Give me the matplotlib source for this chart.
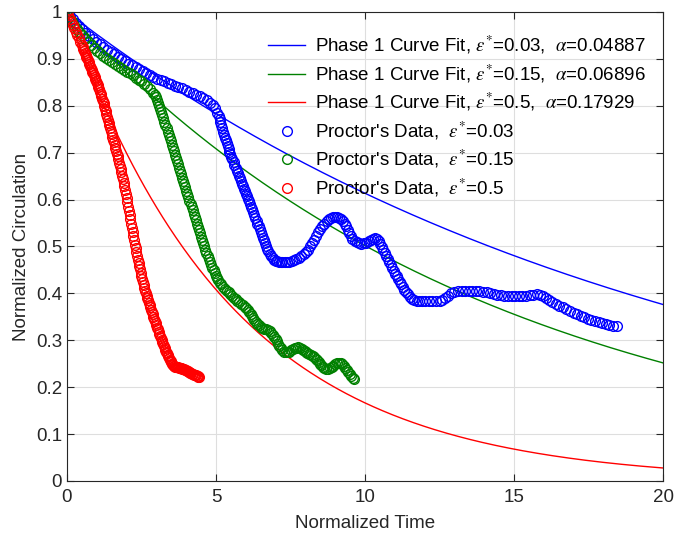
import numpy as np
import matplotlib
matplotlib.use("Agg")
import matplotlib.pyplot as plt

plt.rcParams['font.family'] = ['Liberation Sans', 'DejaVu Sans']
plt.rcParams['mathtext.fontset'] = 'stix'

# curve fit parameters (from legend)
eps_labels = ['0.03', '0.15', '0.5']
alphas = [0.04887, 0.06896, 0.17929]
colors = ['#0000ff', '#008000', '#ff0000']

# Proctor's data
blue_t = [0.00, 0.10, 0.20, 0.30, 0.40, 0.50, 0.62, 0.74, 0.86, 0.98, 1.10, 1.22, 1.34, 1.46, 1.58,
          1.70, 1.82, 1.94, 2.06, 2.18, 2.30, 2.42, 2.54, 2.66, 2.78, 2.90, 3.02, 3.14, 3.26, 3.38,
          3.50, 3.62, 3.74, 3.86, 3.98, 4.10, 4.22, 4.34, 4.46, 4.58, 4.70, 4.80, 4.90, 4.98,
          5.05, 5.09, 5.12, 5.15, 5.18, 5.21, 5.24, 5.27, 5.30, 5.33, 5.36, 5.39, 5.42, 5.45, 5.48,
          5.52, 5.55, 5.59, 5.62, 5.66, 5.69, 5.73, 5.76, 5.80, 5.83, 5.87, 5.90, 5.94, 5.97, 6.01,
          6.04, 6.08, 6.11, 6.15, 6.18, 6.22, 6.25, 6.29, 6.32, 6.36, 6.39, 6.43, 6.46, 6.50, 6.53,
          6.57, 6.60, 6.64, 6.68, 6.72, 6.76, 6.80, 6.85, 6.90, 6.95, 7.00, 7.05, 7.11, 7.17, 7.23,
          7.30, 7.38, 7.46, 7.54, 7.62, 7.70, 7.78, 7.86, 7.94, 8.01, 8.08, 8.15, 8.22, 8.29, 8.36,
          8.43, 8.50, 8.57, 8.64, 8.71, 8.78, 8.85, 8.92, 8.99, 9.06, 9.13, 9.20, 9.26, 9.32, 9.37,
          9.42, 9.47, 9.52, 9.58, 9.65, 9.72, 9.80, 9.88, 9.96, 10.04, 10.12, 10.20, 10.28, 10.35,
          10.41, 10.46, 10.51, 10.56, 10.61, 10.66, 10.71, 10.76, 10.81, 10.86, 10.91, 10.96, 11.01,
          11.06, 11.11, 11.16, 11.21, 11.26, 11.32, 11.38, 11.44, 11.51, 11.58, 11.66, 11.74, 11.82,
          11.90, 12.02, 12.14, 12.26, 12.38, 12.50, 12.60, 12.70, 12.80, 12.90, 13.00, 13.12, 13.24,
          13.36, 13.48, 13.60, 13.72, 13.84, 13.96, 14.08, 14.20, 14.32, 14.44, 14.56, 14.68, 14.80,
          14.92, 15.04, 15.16, 15.28, 15.40, 15.52, 15.64, 15.76, 15.86, 15.96, 16.06, 16.17, 16.28,
          16.40, 16.52, 16.64, 16.76, 16.88, 17.00, 17.12, 17.24, 17.36, 17.48, 17.60, 17.72, 17.84,
          17.96, 18.08, 18.20, 18.32, 18.46]
blue_y = [1.000, 0.992, 0.984, 0.977, 0.970, 0.963, 0.956, 0.949, 0.943, 0.937, 0.932, 0.926, 0.920, 0.915, 0.910,
          0.905, 0.900, 0.895, 0.890, 0.886, 0.882, 0.878, 0.874, 0.869, 0.865, 0.862, 0.858, 0.855, 0.852, 0.849,
          0.846, 0.843, 0.840, 0.837, 0.834, 0.830, 0.827, 0.824, 0.821, 0.816, 0.812, 0.807, 0.801, 0.795,
          0.785, 0.778, 0.772, 0.765, 0.758, 0.752, 0.745, 0.738, 0.732, 0.726, 0.720, 0.714, 0.708, 0.702, 0.697,
          0.691, 0.686, 0.680, 0.674, 0.668, 0.662, 0.656, 0.651, 0.645, 0.640, 0.634, 0.629, 0.623, 0.618, 0.612,
          0.607, 0.601, 0.596, 0.590, 0.585, 0.579, 0.573, 0.567, 0.561, 0.555, 0.549, 0.543, 0.537, 0.531, 0.525,
          0.519, 0.513, 0.507, 0.501, 0.495, 0.490, 0.485, 0.480, 0.476, 0.472, 0.470, 0.468, 0.467, 0.466, 0.466,
          0.466, 0.466, 0.467, 0.469, 0.471, 0.474, 0.476, 0.479, 0.484, 0.488, 0.493, 0.500, 0.507, 0.514, 0.522,
          0.530, 0.537, 0.544, 0.549, 0.554, 0.558, 0.560, 0.562, 0.562, 0.562, 0.560, 0.558, 0.554, 0.549, 0.543,
          0.536, 0.529, 0.523, 0.517, 0.512, 0.509, 0.507, 0.506, 0.507, 0.508, 0.511, 0.514, 0.517, 0.518,
          0.516, 0.511, 0.505, 0.499, 0.492, 0.486, 0.479, 0.473, 0.467, 0.461, 0.455, 0.448, 0.442,
          0.436, 0.430, 0.424, 0.419, 0.414, 0.408, 0.403, 0.398, 0.393, 0.389, 0.386, 0.384, 0.383,
          0.383, 0.383, 0.383, 0.383, 0.383, 0.384, 0.386, 0.390, 0.395, 0.400, 0.403, 0.405, 0.406,
          0.406, 0.406, 0.406, 0.406, 0.405, 0.404, 0.403, 0.401, 0.399, 0.397, 0.396, 0.395, 0.394,
          0.394, 0.394, 0.394, 0.394, 0.395, 0.396, 0.397, 0.399, 0.397, 0.394, 0.390, 0.386, 0.382,
          0.378, 0.374, 0.370, 0.367, 0.363, 0.359, 0.356, 0.352, 0.349, 0.346, 0.343, 0.341, 0.339,
          0.337, 0.335, 0.333, 0.331, 0.330]

green_t = [0.00, 0.08, 0.16, 0.24, 0.32, 0.40, 0.50, 0.60, 0.70, 0.80, 0.90, 1.00, 1.10, 1.20, 1.30,
           1.40, 1.50, 1.60, 1.70, 1.80, 1.90, 2.00, 2.10, 2.20, 2.30, 2.40, 2.50, 2.60, 2.70, 2.80,
           2.90, 2.94, 2.98, 3.02, 3.06, 3.095, 3.13, 3.165, 3.20, 3.235, 3.27, 3.305, 3.34, 3.375,
           3.41, 3.445, 3.48, 3.515, 3.55, 3.585, 3.62, 3.655, 3.69, 3.725, 3.76, 3.795, 3.83, 3.865,
           3.90, 3.935, 3.97, 4.005, 4.04, 4.075, 4.11, 4.145, 4.18, 4.215, 4.25, 4.285, 4.32, 4.355,
           4.39, 4.425, 4.46, 4.495, 4.53, 4.565, 4.60, 4.64, 4.68, 4.72, 4.76, 4.80, 4.84, 4.88,
           4.92, 4.96, 5.00, 5.04, 5.08, 5.13, 5.18, 5.24, 5.30, 5.36, 5.42, 5.48, 5.54, 5.60, 5.66,
           5.72, 5.78, 5.84, 5.90, 5.96, 6.02, 6.07, 6.12, 6.16, 6.20, 6.24, 6.28, 6.33, 6.38, 6.44,
           6.50, 6.56, 6.62, 6.68, 6.74, 6.80, 6.86, 6.91, 6.96, 7.00, 7.04, 7.08, 7.12, 7.17, 7.22,
           7.28, 7.34, 7.40, 7.46, 7.52, 7.58, 7.64, 7.70, 7.76, 7.82, 7.87, 7.92, 7.97, 8.02, 8.07,
           8.12, 8.18, 8.24, 8.29, 8.34, 8.39, 8.44, 8.49, 8.54, 8.59, 8.64, 8.70, 8.76, 8.82, 8.88,
           8.94, 9.00, 9.06, 9.12, 9.18, 9.24, 9.29, 9.34, 9.39, 9.44, 9.49, 9.54, 9.59, 9.64]
green_y = [1.000, 0.990, 0.980, 0.972, 0.964, 0.957, 0.950, 0.943, 0.936, 0.929, 0.923, 0.917, 0.912, 0.907, 0.902,
           0.898, 0.893, 0.889, 0.885, 0.881, 0.877, 0.873, 0.869, 0.865, 0.860, 0.856, 0.852, 0.847, 0.842, 0.836,
           0.828, 0.823, 0.818, 0.812, 0.806, 0.800, 0.793, 0.787, 0.780, 0.773, 0.766, 0.759, 0.752, 0.745,
           0.738, 0.731, 0.724, 0.717, 0.710, 0.703, 0.696, 0.689, 0.682, 0.675, 0.668, 0.661, 0.654, 0.647,
           0.640, 0.633, 0.626, 0.619, 0.612, 0.605, 0.598, 0.591, 0.584, 0.577, 0.570, 0.563, 0.556, 0.549,
           0.542, 0.535, 0.528, 0.521, 0.514, 0.507, 0.500, 0.493, 0.487, 0.480, 0.474, 0.467, 0.461, 0.455,
           0.449, 0.443, 0.438, 0.433, 0.428, 0.423, 0.419, 0.414, 0.410, 0.406, 0.402, 0.398, 0.395, 0.391, 0.388,
           0.384, 0.381, 0.378, 0.375, 0.371, 0.368, 0.365, 0.361, 0.356, 0.352, 0.347, 0.343, 0.339, 0.335, 0.332,
           0.329, 0.327, 0.325, 0.323, 0.321, 0.319, 0.316, 0.312, 0.308, 0.303, 0.298, 0.293, 0.288, 0.283, 0.279,
           0.276, 0.274, 0.275, 0.276, 0.279, 0.281, 0.283, 0.284, 0.285, 0.284, 0.282, 0.280, 0.277, 0.274, 0.272,
           0.270, 0.269, 0.267, 0.264, 0.261, 0.258, 0.254, 0.250, 0.247, 0.244, 0.241, 0.239, 0.239, 0.241, 0.243,
           0.246, 0.249, 0.251, 0.252, 0.251, 0.249, 0.245, 0.241, 0.237, 0.232, 0.228, 0.224, 0.220, 0.217]

red_t = [0.00, 0.05, 0.10, 0.15, 0.20, 0.25, 0.30, 0.35, 0.40, 0.45,
         0.500, 0.525, 0.550, 0.575, 0.600, 0.625, 0.650, 0.675, 0.700, 0.725, 0.750, 0.775, 0.800, 0.825,
         0.850, 0.875, 0.900, 0.925, 0.950, 0.975, 1.000, 1.025, 1.050, 1.075, 1.100, 1.125, 1.150, 1.175,
         1.200, 1.225, 1.250, 1.275, 1.300, 1.325, 1.350, 1.375, 1.400, 1.425, 1.450, 1.475, 1.500, 1.525,
         1.550, 1.575, 1.600, 1.625, 1.650, 1.675, 1.700, 1.725, 1.750, 1.775, 1.800, 1.825, 1.850, 1.875,
         1.900, 1.925, 1.950, 1.975, 2.000, 2.025, 2.050, 2.075, 2.100, 2.125, 2.150, 2.175, 2.200, 2.225,
         2.250, 2.275, 2.300, 2.325, 2.350, 2.375, 2.400, 2.425, 2.450, 2.475, 2.500, 2.525, 2.550, 2.575,
         2.600, 2.625, 2.650, 2.675, 2.700, 2.725, 2.750, 2.775, 2.800, 2.825, 2.850, 2.875, 2.900, 2.925,
         2.950, 2.975, 3.000, 3.025, 3.050, 3.075, 3.100, 3.125, 3.150, 3.175, 3.200, 3.225, 3.250, 3.275,
         3.300, 3.325, 3.350, 3.375, 3.400, 3.425, 3.450, 3.475, 3.500, 3.525, 3.550, 3.575, 3.600,
         3.63, 3.66, 3.69, 3.72, 3.75, 3.78, 3.81, 3.84, 3.87, 3.90, 3.93, 3.96, 3.99, 4.02, 4.05,
         4.08, 4.11, 4.14, 4.17, 4.20, 4.23, 4.26, 4.29, 4.32, 4.35, 4.38, 4.41, 4.43]
red_y = [1.000, 0.993, 0.986, 0.979, 0.972, 0.965, 0.958, 0.951, 0.944, 0.937,
         0.929, 0.925, 0.921, 0.917, 0.913, 0.909, 0.905, 0.901, 0.897, 0.893, 0.889, 0.885, 0.881, 0.877,
         0.873, 0.869, 0.865, 0.861, 0.857, 0.853, 0.848, 0.844, 0.839, 0.835, 0.830, 0.825, 0.820, 0.815,
         0.810, 0.805, 0.799, 0.794, 0.788, 0.782, 0.776, 0.770, 0.764, 0.758, 0.752, 0.746, 0.740, 0.734,
         0.728, 0.722, 0.716, 0.710, 0.704, 0.698, 0.692, 0.686, 0.679, 0.672, 0.665, 0.658, 0.651, 0.644,
         0.636, 0.628, 0.620, 0.612, 0.603, 0.594, 0.585, 0.576, 0.567, 0.558, 0.549, 0.540, 0.531, 0.522,
         0.513, 0.504, 0.496, 0.488, 0.480, 0.472, 0.465, 0.458, 0.451, 0.444, 0.437, 0.430, 0.424, 0.418,
         0.412, 0.406, 0.401, 0.395, 0.390, 0.385, 0.380, 0.375, 0.370, 0.365, 0.360, 0.355, 0.350, 0.345,
         0.341, 0.336, 0.332, 0.327, 0.323, 0.318, 0.314, 0.309, 0.305, 0.300, 0.296, 0.292, 0.288, 0.284,
         0.280, 0.276, 0.273, 0.269, 0.266, 0.262, 0.259, 0.256, 0.253, 0.250, 0.248, 0.246, 0.245,
         0.244, 0.243, 0.242, 0.242, 0.241, 0.241, 0.240, 0.240, 0.239, 0.239, 0.238, 0.237, 0.236, 0.235, 0.234,
         0.233, 0.232, 0.231, 0.230, 0.229, 0.228, 0.227, 0.226, 0.225, 0.224, 0.223, 0.222, 0.222]

data_t = [blue_t, green_t, red_t]
data_y = [blue_y, green_y, red_y]

fig = plt.figure(figsize=(6.74, 5.40), dpi=100)
ax = fig.add_axes([0.0994, 0.1093, 0.8843, 0.8685])

t = np.linspace(0, 20, 400)
for a, e, c in zip(alphas, eps_labels, colors):
    ax.plot(t, np.exp(-a * t), color=c, lw=1.0,
            label='Phase 1 Curve Fit, $\\epsilon^{*}$=%s,  $\\alpha$=%s' % (e, a))
for tt, yy, e, c in zip(data_t, data_y, eps_labels, colors):
    ax.plot(tt, yy, 'o', mfc='none', mec=c, ms=7, mew=1.0,
            label="Proctor's Data,  $\\epsilon^{*}$=%s" % e)

ax.set_xlim(0, 20)
ax.set_ylim(0, 1)
ax.set_xticks([0, 5, 10, 15, 20])
ax.set_yticks(np.arange(0, 1.01, 0.1))
ax.set_yticklabels(['0', '0.1', '0.2', '0.3', '0.4', '0.5', '0.6', '0.7', '0.8', '0.9', '1'])
ax.grid(True, color='#dedede', lw=0.8)
ax.set_axisbelow(True)
ax.tick_params(direction='in', top=True, right=True, length=5, labelsize=13.5, colors='#262626')
ax.tick_params(axis='x', pad=6)
for s in ax.spines.values():
    s.set_color('#262626')
    s.set_linewidth(0.8)
ax.set_xlabel('Normalized Time', fontsize=13.5, color='#262626', labelpad=6)
ax.set_ylabel('Normalized Circulation', fontsize=13.5, color='#262626', labelpad=4)

leg = ax.legend(loc='upper left', bbox_to_anchor=(0.337, 0.953), frameon=False, fontsize=13.5,
                handlelength=2.0, handletextpad=0.5, labelspacing=0.33, borderaxespad=0,
                borderpad=0)

fig.savefig('out.png', dpi=100)
